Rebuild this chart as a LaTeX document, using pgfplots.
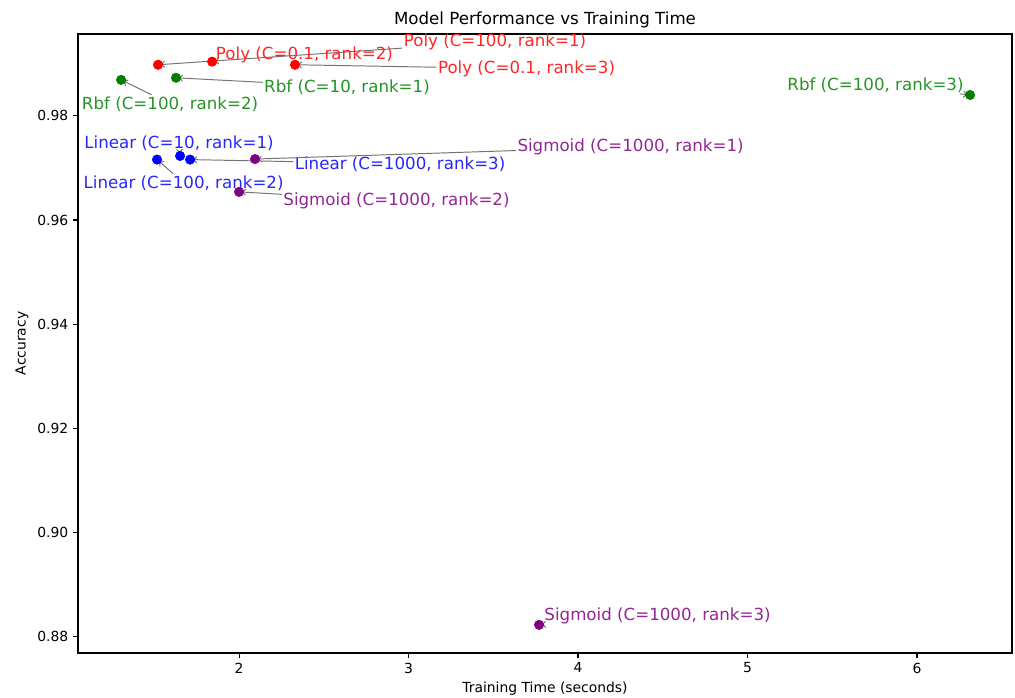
\documentclass[border=0pt]{standalone}
\usepackage{pgfplots}
\pgfplotsset{compat=1.18}
\usetikzlibrary{arrows.meta}
\usepackage{fontspec}
\setmainfont{DejaVu Sans}
\definecolor{mplred}{HTML}{FF0000}
\definecolor{mplgreen}{HTML}{008000}
\definecolor{mplblue}{HTML}{0000FF}
\definecolor{mplpurple}{HTML}{800080}
\colorlet{tred}{mplred!85!white}
\colorlet{tgreen}{mplgreen!85!white}
\colorlet{tblue}{mplblue!85!white}
\colorlet{tpurple}{mplpurple!85!white}
\begin{document}
\begin{tikzpicture}
\useasboundingbox (-56.2pt,-32.4pt) rectangle (674.7pt,470.2pt);
\begin{axis}[
  at={(0,0)}, anchor=south west, scale only axis,
  width=672.5pt, height=445.7pt,
  xmin=1.05, xmax=6.56, ymin=0.8769, ymax=0.9957,
  xtick={2,3,4,5,6},
  ytick={0.88,0.90,0.92,0.94,0.96,0.98},
  yticklabel style={/pgf/number format/.cd, fixed, fixed zerofill, precision=2},
  /pgf/number format/assume math mode=true,
  tick align=outside, major tick length=3.5pt,
  tick style={black, line width=0.8pt},
  xtick pos=bottom, ytick pos=left,
  axis line style={line width=0.8pt},
  ticklabel style={font=\fontsize{10}{12}\selectfont},
  title={Model Performance vs Training Time},
  title style={font=\fontsize{12}{14}\selectfont, at={(axis description cs:0.5,1)}, anchor=center, yshift=4.3pt, inner sep=0pt},
  xlabel={Training Time (seconds)},
  ylabel={Accuracy},
  xlabel style={font=\fontsize{10}{12}\selectfont, at={(axis description cs:0.5,0)}, anchor=center, yshift=-25.9pt},
  ylabel style={font=\fontsize{10}{12}\selectfont, at={(axis description cs:0,0.5)}, anchor=center, yshift=40.3pt},
  clip=false,
  every axis plot/.append style={only marks, mark=*, mark size=3.4pt},
]
% Poly
\addplot[mplred, mark options={fill=mplred, draw=mplred}] coordinates {(1.522,0.9898) (1.841,0.9904) (2.330,0.9898)};
% Rbf
\addplot[mplgreen, mark options={fill=mplgreen, draw=mplgreen}] coordinates {(1.304,0.9869) (1.628,0.9873) (6.313,0.9840)};
% Linear
\addplot[mplblue, mark options={fill=mplblue, draw=mplblue}] coordinates {(1.516,0.9716) (1.652,0.9723) (1.711,0.9716)};
% Sigmoid
\addplot[mplpurple, mark options={fill=mplpurple, draw=mplpurple}] coordinates {(2.094,0.9717) (2.000,0.9654) (3.770,0.8823)};

\tikzset{lab/.style={font=\fontsize{12}{14}\selectfont, inner sep=1pt},
         arr/.style={-{To[length=4pt,width=5pt]}, black!55, line width=0.7pt, shorten >=1pt}}
\node[lab, text=tred] (a1) at (axis cs:3.510,0.99420) {Poly (C=100, rank=1)};
\draw[arr] (a1) -- (axis cs:1.522,0.9898);
\node[lab, text=tred] (a2) at (axis cs:2.386,0.99171) {Poly (C=0.1, rank=2)};
\draw[arr] (a2) -- (axis cs:1.841,0.9904);
\node[lab, text=tred] (a3) at (axis cs:3.696,0.98902) {Poly (C=0.1, rank=3)};
\draw[arr] (a3) -- (axis cs:2.330,0.9898);
\node[lab, text=tgreen] (b1) at (axis cs:2.637,0.98557) {Rbf (C=10, rank=1)};
\draw[arr] (b1) -- (axis cs:1.628,0.9873);
\node[lab, text=tgreen] (b2) at (axis cs:1.593,0.98230) {Rbf (C=100, rank=2)};
\draw[arr] (b2) -- (axis cs:1.304,0.9869);
\node[lab, text=tgreen] (b3) at (axis cs:5.755,0.98595) {Rbf (C=100, rank=3)};
\draw[arr] (b3) -- (axis cs:6.313,0.9840);
\node[lab, text=tblue] (c1) at (axis cs:1.646,0.97482) {Linear (C=10, rank=1)};
\draw[arr] (c1) -- (axis cs:1.652,0.9723);
\node[lab, text=tblue] (c2) at (axis cs:2.950,0.97079) {Linear (C=1000, rank=3)};
\draw[arr] (c2) -- (axis cs:1.711,0.9716);
\node[lab, text=tblue] (c3) at (axis cs:1.673,0.96714) {Linear (C=100, rank=2)};
\draw[arr] (c3) -- (axis cs:1.516,0.9716);
\node[lab, text=tpurple] (d1) at (axis cs:4.310,0.97405) {Sigmoid (C=1000, rank=1)};
\draw[arr] (d1) -- (axis cs:2.094,0.9717);
\node[lab, text=tpurple] (d2) at (axis cs:2.929,0.96368) {Sigmoid (C=1000, rank=2)};
\draw[arr] (d2) -- (axis cs:2.000,0.9654);
\node[lab, text=tpurple] (d3) at (axis cs:4.469,0.88403) {Sigmoid (C=1000, rank=3)};
\draw[arr] (d3) -- (axis cs:3.770,0.8823);
\end{axis}
\end{tikzpicture}
\end{document}
